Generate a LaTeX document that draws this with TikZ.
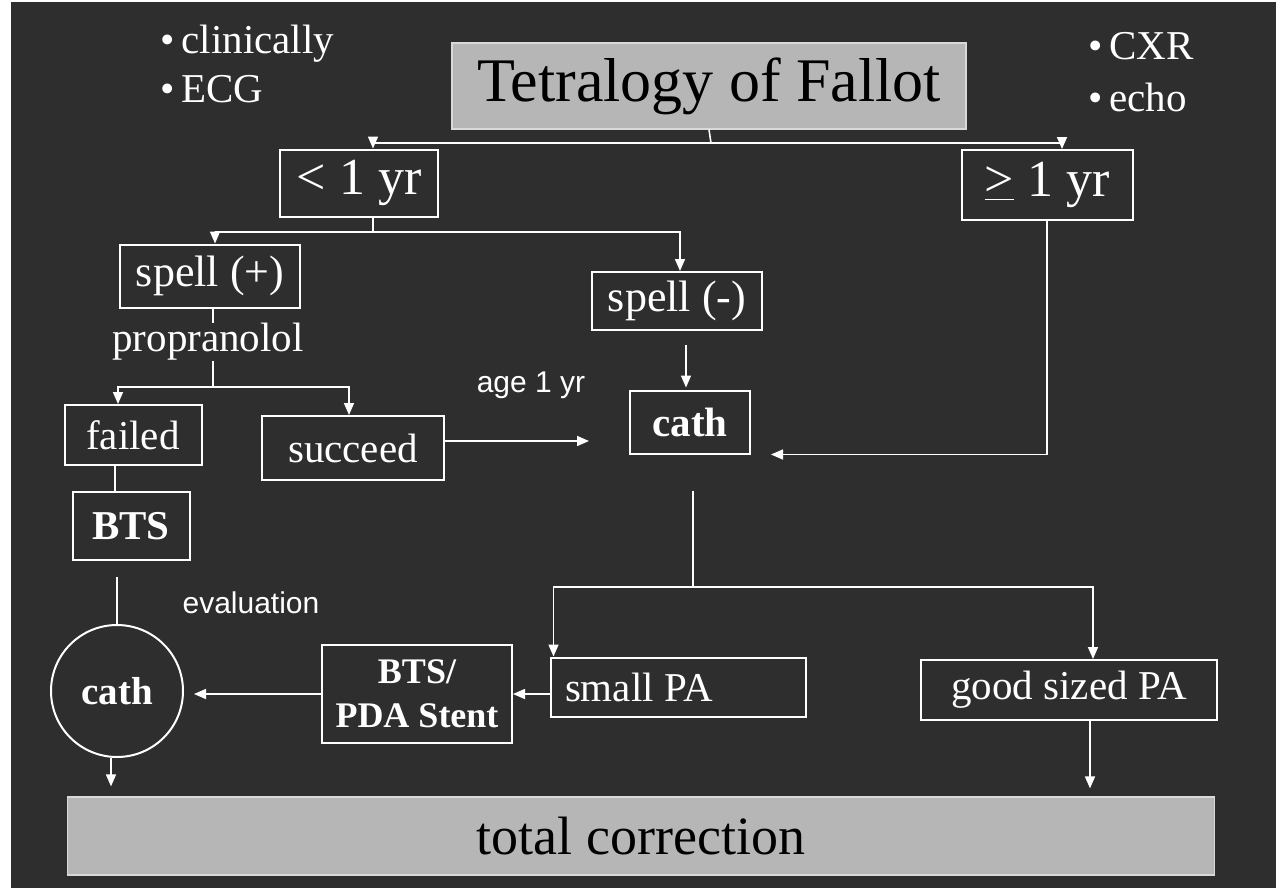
\documentclass[tikz,border=0pt]{standalone}
\usepackage{fontspec}
\setmainfont{Liberation Serif}
\setsansfont{Liberation Sans}
\usetikzlibrary{arrows.meta}

\definecolor{slideBg}{RGB}{46,46,46}
\definecolor{panelGrey}{RGB}{182,182,182}

\newcommand{\bigfont}{\fontsize{31}{36}\selectfont}
\newcommand{\agefont}{\fontsize{26}{30}\selectfont}
\newcommand{\midfont}{\fontsize{20.5}{23}\selectfont}
\newcommand{\smallsans}{\fontsize{15}{18}\sffamily\selectfont}

\begin{document}
\begin{tikzpicture}[x=0.5pt, y=-0.5pt,
        box/.style={rectangle, draw=white, line width=1pt, text=white, font=\midfont, inner sep=0pt},
        boldbox/.style={box, font=\midfont\bfseries},
        panel/.style={rectangle, draw=white!85!black, line width=0.6pt, fill=panelGrey, text=black, inner sep=0pt},
        label/.style={text=white, font=\midfont, inner sep=0pt},
        note/.style={text=white, font=\smallsans, inner sep=0pt},
        line/.style={draw=white, line width=0.8pt},
        arr/.style={line, -{Triangle[length=6pt,width=5pt]}}
    ]
        \useasboundingbox (0,0) rectangle (1282,895);
        \fill[white] (0,0) rectangle (1282,895);
        \fill[slideBg] (11,2) rectangle (1276,888);

        % top row
        \node[panel, minimum width=257pt, minimum height=43pt, font=\bigfont] (title) at (709,86) {Tetralogy of Fallot};
        \node[label, anchor=west] (clin) at (160,44) {\textbullet\,clinically};
        \node[label, anchor=west] (ecg) at (160,89) {\textbullet\,ECG};
        \node[label, anchor=west] (cxr) at (1088,46) {\textbullet\,CXR};
        \node[label, anchor=west] (echo) at (1088,97) {\textbullet\,echo};

        % age split
        \node[box, font=\agefont, minimum width=79pt, minimum height=33.5pt] (young) at (359,183) {< 1 yr};
        \node[box, font=\agefont, minimum width=85.5pt, minimum height=35pt] (old) at (1047,185) {\underline{>} 1 yr};
        \coordinate (tj) at (711,143);
        \draw[line] (title.south) -- (tj);
        \draw[arr] (tj) -| ([xshift=7pt]young.north);
        \draw[arr] (tj) -| ([xshift=7.5pt]old.north);

        % spells
        \node[box, font=\fontsize{22}{25}\selectfont, minimum width=90pt, minimum height=31.5pt] (spellp) at (210,276) {spell (+)};
        \node[box, font=\fontsize{22}{25}\selectfont, minimum width=85pt, minimum height=29pt] (spellm) at (677,301) {spell (-)};
        \coordinate (yj) at (373,232);
        \draw[line] ([xshift=7pt]young.south) -- (yj);
        \draw[arr] (yj) -| ([xshift=2.5pt]spellp.north);
        \draw[arr] (yj) -| ([xshift=1.5pt]spellm.north);

        \node[label] (prop) at (208,342) {propranolol};
        \coordinate (pj) at (213,387);
        \draw[line] (spellp.south -| pj) -- (prop.north -| pj);
        \node[box, minimum width=68.5pt, minimum height=30pt] (failed) at (133,435) {failed};
        \node[box, minimum width=91pt, minimum height=32pt] (succeed) at (353,448) {succeed};
        \draw[line] (prop.south -| pj) -- (pj);
        \draw[arr] (pj) -| ([xshift=-7.5pt]failed.north);
        \draw[arr] (pj) -| ([xshift=-2pt]succeed.north);

        % left column
        \node[boldbox, minimum width=58.5pt, minimum height=34pt] (bts) at (131,526) {BTS};
        \draw[line] ([xshift=-8pt]bts.north) -- ([xshift=-8pt]bts.north |- failed.south);
        \node[note] (eval) at (251,603) {evaluation};
        \node[circle, draw=white, line width=1pt, text=white, font=\fontsize{19.5}{22}\selectfont\bfseries, minimum size=66pt, inner sep=0pt] (cathc) at (117,691) {cath};
        \draw[line, shorten <=8pt] (cathc.north |- bts.south) -- (cathc.north);

        % cath
        \node[boldbox, minimum width=60pt, minimum height=31.5pt] (catht) at (690,422) {cath};
        \node[note] (age) at (531,385) {age 1 yr};
        \draw[arr, shorten <=7pt, shorten >=1pt] ([xshift=4.5pt]spellm.south) -- ([xshift=4.5pt]spellm.south |- catht.north);
        \draw[arr, shorten >=20pt] ([yshift=3.5pt]succeed.east) -- ([yshift=3.5pt]succeed.east -| catht.west);
        \draw[arr, shorten >=10pt] (old.south) |- (catht.south east);

        % PA size
        \node[box, minimum width=127.5pt, minimum height=29.5pt, text width=113pt, align=flush left] (smallpa) at (678,687) {small PA};
        \node[box, minimum width=148pt, minimum height=30pt] (goodpa) at (1069,690) {good sized PA};
        \coordinate (cj) at (693,587);
        \draw[line, shorten <=18pt] ([xshift=1.5pt]catht.south) -- (cj);
        \draw[arr] (cj) -| ([xshift=2pt]smallpa.north west);
        \draw[arr] (cj) -| ([xshift=12pt]goodpa.north);

        \node[boldbox, font=\fontsize{18}{22}\selectfont\bfseries, minimum width=95pt, minimum height=49pt, align=center] (shunt) at (417,694) {BTS/\\PDA Stent};
        \draw[arr] (smallpa.west |- shunt.east) -- (shunt.east);
        \draw[arr, shorten >=5pt] (shunt.west) -- (shunt.west -| cathc.east);

        % bottom
        \node[panel, minimum width=573.5pt, minimum height=39pt, font=\fontsize{27}{31}\selectfont] (total) at (641,836) {total correction};
        \draw[arr, shorten >=5pt] ([xshift=-3pt]cathc.south) -- ([xshift=-3pt]cathc.south |- total.north);
        \draw[arr, shorten >=4pt] ([xshift=10.5pt]goodpa.south) -- ([xshift=10.5pt]goodpa.south |- total.north);
    \end{tikzpicture}
\end{document}
